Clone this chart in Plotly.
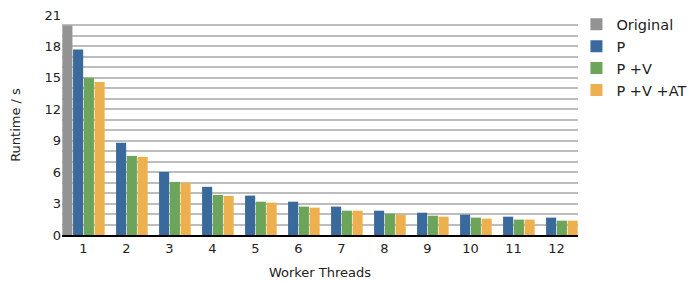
import plotly.graph_objects as go

categories = [str(i) for i in range(1, 13)]
original = [20.0] + [None] * 11
p = [17.7, 8.8, 6.02, 4.6, 3.76, 3.18, 2.71, 2.32, 2.13, 1.94, 1.75, 1.66]
pv = [15.0, 7.55, 5.07, 3.82, 3.18, 2.71, 2.32, 2.04, 1.84, 1.66, 1.47, 1.37]
pvat = [14.6, 7.46, 4.97, 3.73, 3.09, 2.61, 2.32, 1.94, 1.75, 1.56, 1.47, 1.37]
ytick_vals = [0, 3, 6, 9, 12, 15, 18, 21]

names = ["Original", "P", "P +V", "P +V +AT"]
colors = ["#939393", "#3a6a9c", "#6ca55a", "#ecb04e"]
series = [original, p, pv, pvat]

fig = go.Figure()
for n, c, s in zip(names, colors, series):
    fig.add_trace(go.Bar(x=categories, y=s, name=n, marker=dict(color=c, line=dict(width=0))))

font = "DejaVu Sans, sans-serif"
# the page body adds an 8px offset; size/margins compensate for it
fig.update_layout(
    width=688, height=274,
    margin=dict(l=54, r=117.5, t=7, b=47, autoexpand=False),
    barmode="group", bargap=0.0, bargroupgap=0.06,
    paper_bgcolor="white", plot_bgcolor="white",
    font=dict(family=font, size=13, color="#222"),
    legend=dict(x=0.997, y=1.03, xanchor="left", yanchor="top",
                font=dict(size=14.5, color="#222"), tracegroupgap=0,
                itemwidth=30, bgcolor="rgba(0,0,0,0)"),
    xaxis=dict(type="category", showgrid=False, ticks="", showline=True,
               linecolor="black", linewidth=2, automargin=False,
               tickfont=dict(size=13),
               title=dict(text="Worker Threads", font=dict(size=13), standoff=13)),
    yaxis=dict(range=[0, 21], tickvals=ytick_vals, showgrid=True,
               gridcolor="#bdbdbd", gridwidth=1.5, zeroline=False,
               ticks="", showline=False, automargin=False,
               tickfont=dict(size=13), ticklabeloverflow="allow",
               minor=dict(dtick=1, tick0=0, showgrid=True, gridcolor="#bdbdbd", gridwidth=1.5),
               title=dict(text="Runtime / s", font=dict(size=13), standoff=21)),
)
fig.write_html("out.html")
